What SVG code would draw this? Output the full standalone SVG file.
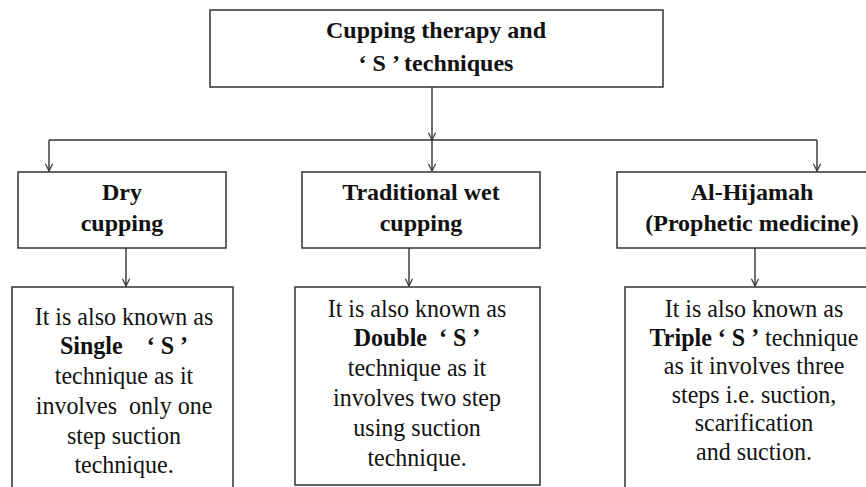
<svg xmlns="http://www.w3.org/2000/svg" width="866" height="487" viewBox="0 0 866 487">
<defs>
<marker id="arr" viewBox="0 0 10 10" refX="9" refY="5" markerWidth="9" markerHeight="9" markerUnits="userSpaceOnUse" orient="auto">
<path d="M1,1 L9,5 L1,9" fill="none" stroke="#333" stroke-width="1.3"/>
</marker>
<style>
.box{fill:#fff;stroke:#333;stroke-width:1.5}
.c{fill:none;stroke:#333;stroke-width:1.4}
.h{font-family:"Liberation Serif",serif;font-weight:bold;font-size:24px;fill:#111;text-anchor:middle}
.t{font-family:"Liberation Serif",serif;font-size:24px;fill:#111;text-anchor:middle}
.b{font-weight:bold}
</style>
</defs>
<rect width="866" height="487" fill="#fff"/>
<g id="connectors">
<line class="c" x1="432" y1="87" x2="432" y2="140" marker-end="url(#arr)"/>
<line class="c" x1="49" y1="140" x2="817" y2="140"/>
<line class="c" x1="49" y1="140" x2="49" y2="171" marker-end="url(#arr)"/>
<line class="c" x1="432" y1="140" x2="432" y2="171" marker-end="url(#arr)"/>
<line class="c" x1="817" y1="140" x2="817" y2="171" marker-end="url(#arr)"/>
<line class="c" x1="126" y1="248" x2="126" y2="286" marker-end="url(#arr)"/>
<line class="c" x1="409" y1="248" x2="409" y2="286" marker-end="url(#arr)"/>
<line class="c" x1="755" y1="248" x2="755" y2="286" marker-end="url(#arr)"/>
</g>
<g id="root">
<rect class="box" x="210" y="10" width="453" height="77"/>
<text class="h" x="436" y="38">Cupping therapy and</text>
<text class="h" x="436" y="71">‘ S ’ techniques</text>
</g>
<g id="dry">
<rect class="box" x="18" y="172" width="208" height="76"/>
<text class="h" x="122" y="200">Dry</text>
<text class="h" x="122" y="231">cupping</text>
</g>
<g id="wet">
<rect class="box" x="302" y="172" width="238" height="76"/>
<text class="h" x="421" y="200">Traditional wet</text>
<text class="h" x="421" y="231">cupping</text>
</g>
<g id="hijamah">
<rect class="box" x="617" y="172" width="270" height="76"/>
<text class="h" x="752" y="200">Al-Hijamah</text>
<text class="h" x="752" y="231">(Prophetic medicine)</text>
</g>
<g id="single">
<rect class="box" x="12" y="287" width="221" height="210"/>
<text class="t" transform="translate(124,325) scale(1,1.07)">It is also known as</text>
<text class="t" transform="translate(124,354) scale(1,1.07)"><tspan class="b">Single</tspan>&#160;&#160;&#160;&#160;<tspan class="b">‘ S ’</tspan></text>
<text class="t" transform="translate(124,384) scale(1,1.07)">technique as it</text>
<text class="t" transform="translate(124,414) scale(1,1.07)">involves&#160; only one</text>
<text class="t" transform="translate(124,444) scale(1,1.07)">step suction</text>
<text class="t" transform="translate(124,473) scale(1,1.07)">technique.</text>
</g>
<g id="double">
<rect class="box" x="295" y="287" width="245" height="198"/>
<text class="t" transform="translate(417,317) scale(1,1.07)">It is also known as</text>
<text class="t" transform="translate(417,346) scale(1,1.07)"><tspan class="b">Double</tspan>&#160;&#160;<tspan class="b">‘ S ’</tspan></text>
<text class="t" transform="translate(417,376) scale(1,1.07)">technique as it</text>
<text class="t" transform="translate(417,406) scale(1,1.07)">involves two step</text>
<text class="t" transform="translate(417,436) scale(1,1.07)">using suction</text>
<text class="t" transform="translate(417,466) scale(1,1.07)">technique.</text>
</g>
<g id="triple">
<rect class="box" x="625" y="287" width="262" height="210"/>
<text class="t" transform="translate(754,317) scale(1,1.07)">It is also known as</text>
<text class="t" transform="translate(754,346) scale(1,1.07)"><tspan class="b">Triple ‘ S ’</tspan> technique</text>
<text class="t" transform="translate(754,374) scale(1,1.07)">as it involves three</text>
<text class="t" transform="translate(754,403) scale(1,1.07)">steps i.e. suction,</text>
<text class="t" transform="translate(754,431) scale(1,1.07)">scarification</text>
<text class="t" transform="translate(754,460) scale(1,1.07)">and suction.</text>
</g>
</svg>
